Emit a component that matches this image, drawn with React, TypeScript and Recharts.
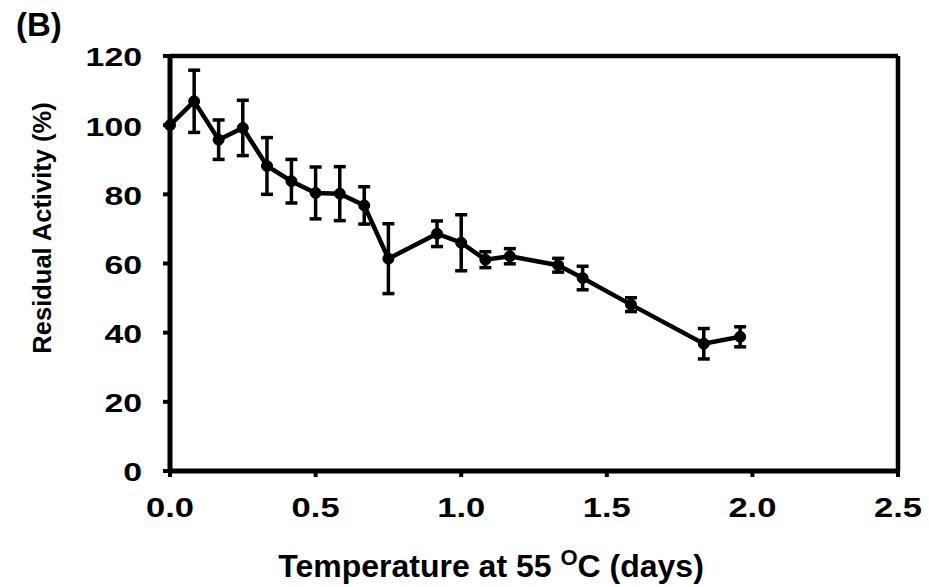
import { LineChart, Line, XAxis, YAxis, ErrorBar, ReferenceLine } from 'recharts';

// time at 55 °C in days, residual activity (%) and its error
const days = [0, 0.083, 0.167, 0.25, 0.333, 0.417, 0.5, 0.583, 0.667, 0.75, 0.917, 1.0, 1.083, 1.167, 1.333, 1.417, 1.583, 1.833, 1.958];
const activity = [100, 106.9, 95.8, 99.2, 88.2, 83.8, 80.4, 80.2, 76.8, 61.4, 68.6, 66.0, 61.1, 62.1, 59.5, 55.8, 48.1, 36.8, 38.8];
const errors = [null, 9.0, 5.7, 8.0, 8.2, 6.3, 7.5, 7.8, 5.4, 10.1, 3.7, 8.1, 2.3, 2.2, 2.0, 3.4, 2.0, 4.4, 2.9];

const xTicks = [0, 0.5, 1.0, 1.5, 2.0, 2.5];
const yTicks = [0, 20, 40, 60, 80, 100, 120];

const FONT = '"Liberation Sans", Arial, sans-serif';

const data = days.map((d, i) => ({ day: d, activity: activity[i], err: errors[i] }));

function XTick(props: any) {
  const { x, y, payload } = props;
  return (
    <g transform={`translate(${x},${y + 38}) scale(1.28,1)`}>
      <text textAnchor="middle" fontFamily={FONT} fontWeight="bold" fontSize={27} fill="#000">
        {Number(payload.value).toFixed(1)}
      </text>
    </g>
  );
}

function YTick(props: any) {
  const { x, y, payload } = props;
  return (
    <g transform={`translate(${x - 19},${y + 1}) scale(1.3,1)`}>
      <text textAnchor="end" dy="0.36em" fontFamily={FONT} fontWeight="bold" fontSize={26} fill="#000">
        {payload.value}
      </text>
    </g>
  );
}

function XTitle(props: any) {
  const { viewBox } = props;
  const cx = viewBox.x + viewBox.width / 2 - 43;
  return (
    <text x={cx} y={577} textAnchor="middle" fontFamily={FONT} fontWeight="bold" fontSize={32} fill="#000">
      Temperature at 55{' '}
      <tspan fontSize={22} dy={-12}>O</tspan>
      <tspan dy={12}>C (days)</tspan>
    </text>
  );
}

function YTitle() {
  return (
    <text
      transform="translate(42,228) rotate(-90)"
      textAnchor="middle"
      dy="0.36em"
      fontFamily={FONT}
      fontWeight="bold"
      fontSize={25.5}
      fill="#000"
    >
      Residual Activity (%)
    </text>
  );
}

export default function App() {
  return (
    <div style={{ position: 'absolute', left: 0, top: 0, width: 929, height: 587, background: '#fff' }}>
      <div
        style={{
          position: 'absolute',
          left: 16,
          top: 6,
          fontFamily: FONT,
          fontWeight: 'bold',
          fontSize: 33,
          lineHeight: '38px',
          color: '#000',
        }}
      >
        (B)
      </div>
      <LineChart width={929} height={587} data={data} margin={{ top: 56, right: 31, bottom: 26, left: 0 }}>
        <XAxis
          dataKey="day"
          type="number"
          domain={[0, 2.5]}
          ticks={xTicks}
          height={90}
          axisLine={{ stroke: '#000', strokeWidth: 5 }}
          tickLine={{ stroke: '#000', strokeWidth: 4 }}
          tickSize={6}
          tick={<XTick />}
          label={<XTitle />}
        />
        <YAxis
          type="number"
          domain={[0, 120]}
          ticks={yTicks}
          width={170}
          axisLine={{ stroke: '#000', strokeWidth: 5 }}
          tickLine={{ stroke: '#000', strokeWidth: 4 }}
          tickSize={7}
          tick={<YTick />}
          label={<YTitle />}
        />
        <ReferenceLine y={120} stroke="#000" strokeWidth={4.5} />
        <ReferenceLine x={2.5} stroke="#000" strokeWidth={4.5} />
        <Line
          type="linear"
          dataKey="activity"
          stroke="#000"
          strokeWidth={4.5}
          dot={{ r: 5.5, fill: '#000', stroke: '#000', strokeWidth: 1 }}
          isAnimationActive={false}
        >
          <ErrorBar dataKey="err" direction="y" width={6} stroke="#000" strokeWidth={3.5} isAnimationActive={false} />
        </Line>
      </LineChart>
    </div>
  );
}
